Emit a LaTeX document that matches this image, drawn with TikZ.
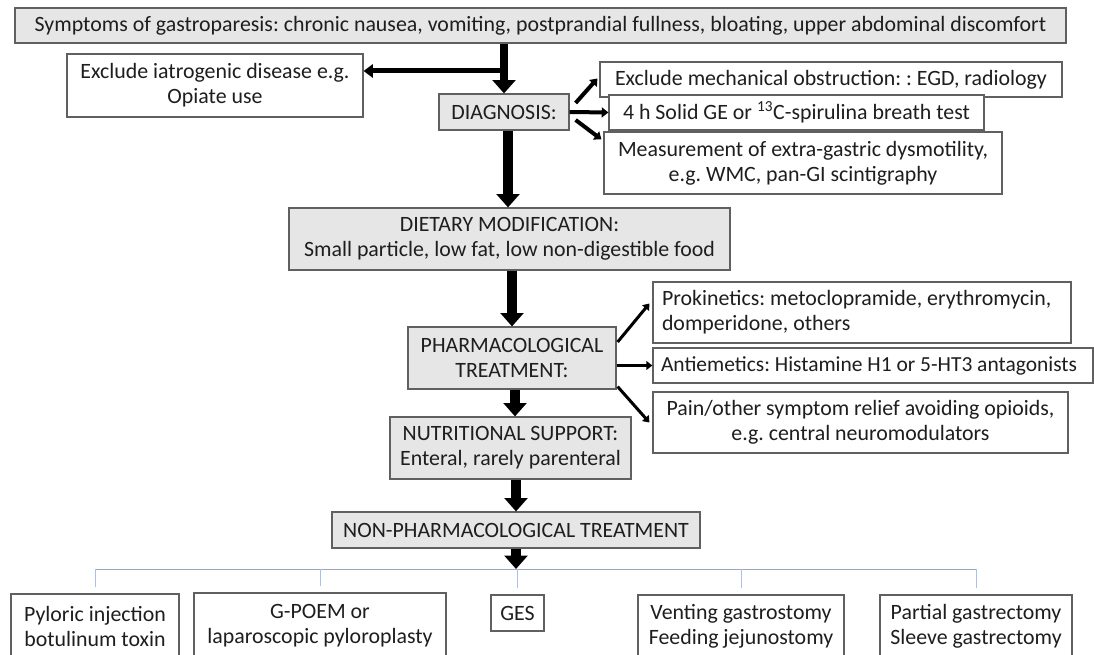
\documentclass[tikz,border=0pt]{standalone}
\usepackage{fontspec}
\setmainfont{Carlito}
\usetikzlibrary{arrows.meta,calc}
\definecolor{gfill}{HTML}{E6E6E6}
\definecolor{bord}{HTML}{606060}
\definecolor{txt}{HTML}{1E1E1E}
\definecolor{busc}{HTML}{9AA6BC}
\definecolor{tickc}{HTML}{A9C0E8}
\begin{document}
\frenchspacing
\begin{tikzpicture}[x=0.75pt,y=-0.75pt,
  box/.style={draw=bord, line width=0.9pt, fill=white, inner sep=0pt, align=center, text=txt,
    font=\fontsize{16.4pt}{18.75pt}\selectfont},
  gbox/.style={box, fill=gfill},
  bigarrow/.style={line width=8pt, -{Triangle[width=17pt,length=10pt]}},
  midarrow/.style={line width=3.75pt, -{Triangle[width=10pt,length=7pt]}},
  smallarrow/.style={line width=3pt, -{Triangle[width=7.5pt,length=5pt]}},
  tinyarrow/.style={line width=2.25pt, -{Triangle[width=6.5pt,length=4.5pt]}},
  busline/.style={draw=busc, line width=0.75pt},
  tickline/.style={draw=tickc, line width=0.75pt}]
\useasboundingbox (0,0) rectangle (1094,655);
\clip (0,0) rectangle (1094,655);
\fill[white] (0,0) rectangle (1094,655);

% main column
\node[gbox, minimum width=788.25pt, minimum height=26.25pt] (top) at (540.5,25.5)
  {Symptoms of gastroparesis: chronic nausea, vomiting, postprandial fullness, bloating, upper abdominal discomfort};
\node[box, minimum width=222pt, minimum height=47.25pt] (excl) at (215,85.5)
  {Exclude iatrogenic disease e.g.\\ Opiate use};
\node[gbox, minimum width=97.5pt, minimum height=27pt] (diag) at (504,112) {DIAGNOSIS:};
\node[box, minimum width=346.5pt, minimum height=26.25pt] (mech) at (831,79.5)
  {Exclude mechanical obstruction: : EGD, radiology};
\node[box, minimum width=281.25pt, minimum height=26.25pt] (ge4) at (796.5,112.5)
  {4 h Solid GE or \textsuperscript{13}C-spirulina breath test};
\node[box, minimum width=298.5pt, minimum height=46.5pt] (meas) at (803,163)
  {Measurement of extra-gastric dysmotility,\\ e.g. WMC, pan-GI scintigraphy};
\node[gbox, minimum width=330.75pt, minimum height=46.5pt] (diet) at (509.5,239)
  {DIETARY MODIFICATION:\\ Small particle, low fat, low non-digestible food};
\node[gbox, minimum width=156pt, minimum height=46.5pt] (pharm) at (512,358)
  {PHARMACOLOGICAL\\ TREATMENT:};
\node[box, minimum width=313.5pt, minimum height=45.75pt, text width=300pt, align=flush left] (prok) at (862,312.5)
  {Prokinetics: metoclopramide, erythromycin,\\ domperidone, others};
\node[box, minimum width=330pt, minimum height=26.25pt, text width=318pt, align=flush left,
  font=\fontsize{16.1pt}{18.75pt}\selectfont] (anti) at (873,365.5)
  {\mbox{Antiemetics: Histamine H1 or 5-HT3 antagonists}};
\node[box, minimum width=311.25pt, minimum height=45.75pt] (pain) at (860.5,422.5)
  {Pain/other symptom relief avoiding opioids,\\ e.g. central neuromodulators};
\node[gbox, minimum width=180.75pt, minimum height=46.5pt] (nutr) at (510.5,448)
  {NUTRITIONAL SUPPORT:\\ Enteral, rarely parenteral};
\node[gbox, minimum width=276pt, minimum height=27pt] (nonph) at (516,530)
  {NON-PHARMACOLOGICAL TREATMENT};

% bottom row
\node[box, minimum width=126pt, minimum height=48pt] (pyl) at (95,626)
  {Pyloric injection\\ botulinum toxin};
\node[box, minimum width=189pt, minimum height=48.75pt] (gpoem) at (320,625.5)
  {G-POEM or\\ laparoscopic pyloroplasty};
\node[box, minimum width=39.75pt, minimum height=27pt] (ges) at (517.5,613) {GES};
\node[box, minimum width=154.5pt, minimum height=47.25pt] (vent) at (741,626.5)
  {Venting gastrostomy\\ Feeding jejunostomy};
\node[box, minimum width=144pt, minimum height=47.25pt] (part) at (976,626.5)
  {Partial gastrectomy\\ Sleeve gastrectomy};

% connectors
\coordinate (j1) at (505,71);
\coordinate (bus) at (517,569);
\coordinate (a1) at ($(diag.south)+(4,0)$);
\coordinate (a2) at ($(pharm.south)+(3,0)$);
\draw[line width=6pt, -{Triangle[width=17pt,length=10pt]}] (diag.north |- top.south) -- (diag.north);
\draw[midarrow] (j1) -- (j1 -| excl.east);
\draw[smallarrow] ($(diag.east)+(6,-9)$) -- ($(mech.west)+(-2,-1)$);
\draw[smallarrow] (diag.east) -- (ge4.west);
\draw[smallarrow] ($(diag.east)+(6,8)$) -- ($(meas.north west)+(-2,8)$);
\draw[bigarrow] (a1) -- (a1 |- diet.north);
\draw[bigarrow] (pharm.north |- diet.south) -- (pharm.north);
\draw[tinyarrow] ($(pharm.east)+(1,-16)$) -- ($(prok.west)+(-3,-9)$);
\draw[tinyarrow] (pharm.east |- anti.west) -- (anti.west);
\draw[tinyarrow] ($(pharm.south east)+(1,-3)$) -- ($(pain.west)+(-3,0)$);
\draw[bigarrow] (a2) -- (a2 |- nutr.north);
\draw[bigarrow] (nonph.north |- nutr.south) -- (nonph.north);
\draw[busline] (pyl.north |- bus) -- (part.north |- bus);
\foreach \b in {pyl,gpoem,ges,vent,part}
  \draw[tickline] (\b.north |- bus) -- ($(\b.north)+(0,-6)$);
\draw[bigarrow] (nonph.south) -- (nonph.south |- bus);
\end{tikzpicture}
\end{document}
